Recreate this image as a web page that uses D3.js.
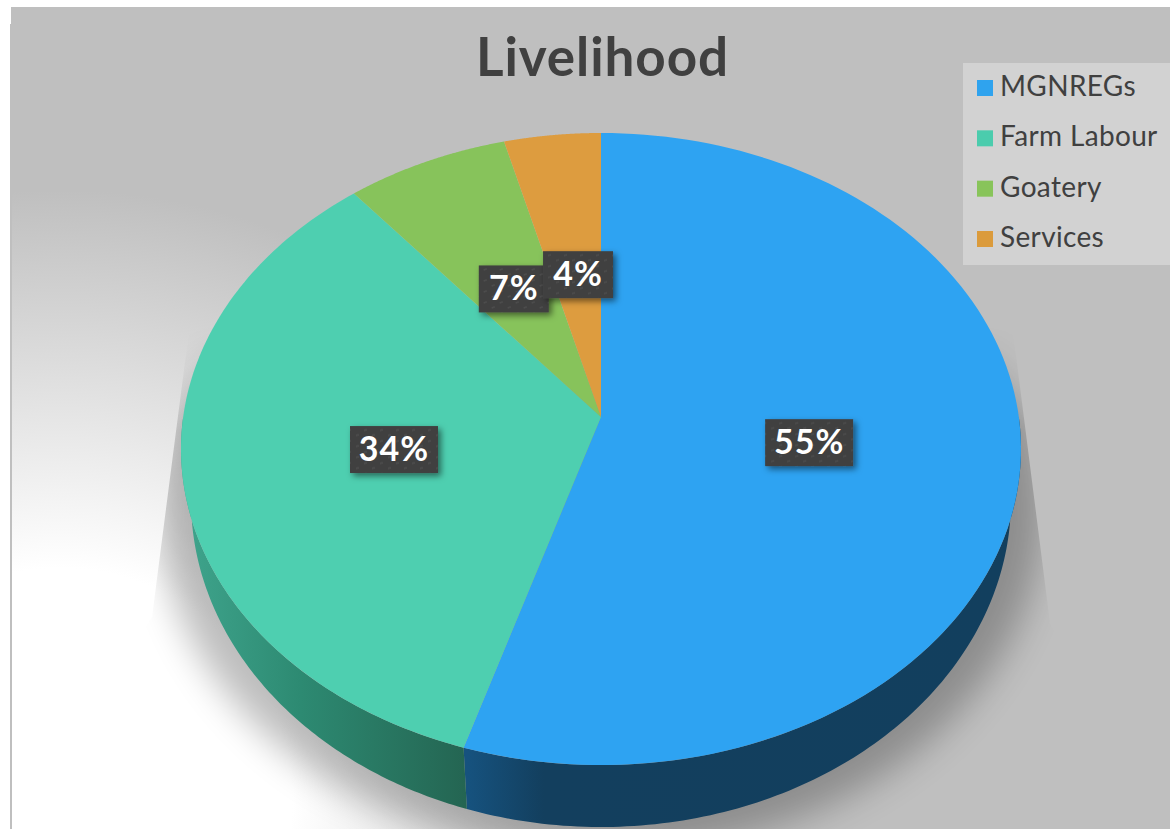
<!DOCTYPE html>
<html>
<head>
<meta charset="utf-8">
<script src="https://cdn.jsdelivr.net/npm/d3@7"></script>
<style>
  html, body { margin: 0; padding: 0; background: #fff; }
  svg { display: block; }
  text { font-family: Lato, sans-serif; }
</style>
</head>
<body>
<svg id="chart" width="1170" height="829"></svg>
<script>
// Data
const categories = ["MGNREGs", "Farm Labour", "Goatery", "Services"];
const shares = [0.548, 0.342, 0.069, 0.041];
const topColors = ["#2ea3f2", "#4ecfb0", "#87c35b", "#dd9c3f"];
const legendColors = ["#2fa3ee", "#4bccad", "#88c45a", "#db9b3c"];
const wallStops = [
  [["#16527e", 0], ["#133f5e", 0.14], ["#123f5e", 1]],
  [["#3ea38b", 0], ["#2d8a72", 0.4], ["#246552", 1]],
  [["#3d7a2c", 0], ["#3d7a2c", 1]],
  [["#7a5520", 0], ["#7a5520", 1]]
];
const titleText = "Livelihood";

const svg = d3.select("svg#chart");
const defs = svg.append("defs");

// Perspective of the pie: slices meet at the apex, not at the middle of the ellipse
const top3d = { cx: 601, cy: 449, rx: 420, ry: 316, apexY: 417, k: -0.1013 };
const low3d = { cx: 601, cy: 500, rx: 410, ry: 327 };
const scaleX = top3d.rx * Math.sqrt(1 - top3d.k * top3d.k);
const scaleY = 284 * (1 - top3d.k);

function project(angle, r) {
  const x = Math.sin(angle) * r;
  const y = -Math.cos(angle) * r;
  const w = 1 + top3d.k * y;
  return [top3d.cx + scaleX * x / w, top3d.apexY + scaleY * y / w];
}

function lowerRim(angle) {
  const p = project(angle, 1);
  const ex = (p[0] - top3d.cx) / top3d.rx;
  const ey = (p[1] - top3d.cy) / top3d.ry;
  return [low3d.cx + low3d.rx * ex, low3d.cy + low3d.ry * ey];
}

const pie = d3.pie().sort(null).value(d => d);
const arcs = pie(shares);
const line = d3.line().curve(d3.curveLinearClosed);

function arcAngles(d, from, to) {
  const a0 = Math.max(d.startAngle, from);
  const a1 = Math.min(d.endAngle, to);
  return d3.range(0, 121).map(i => a0 + (a1 - a0) * i / 120);
}

// Background
const bgGrad = defs.append("radialGradient")
  .attr("id", "bgGrad")
  .attr("gradientUnits", "userSpaceOnUse")
  .attr("cx", 60).attr("cy", 800).attr("r", 610);
bgGrad.append("stop").attr("offset", 0.38).attr("stop-color", "#ffffff");
bgGrad.append("stop").attr("offset", 1).attr("stop-color", "#bfbfbf");

svg.append("rect")
  .attr("x", 11).attr("y", 7)
  .attr("width", 1159).attr("height", 822)
  .attr("fill", "url(#bgGrad)");
svg.append("rect")
  .attr("x", 10).attr("y", 24)
  .attr("width", 2).attr("height", 805)
  .attr("fill", "#bfbfbf");

// Shadow under the pie
const blur = defs.append("filter")
  .attr("id", "shadowBlur")
  .attr("x", "-10%").attr("y", "-10%")
  .attr("width", "120%").attr("height", "120%");
blur.append("feGaussianBlur").attr("stdDeviation", 18);

defs.append("clipPath").attr("id", "shadowClip")
  .append("path")
  .attr("d", "M193,300 L1009,300 L1050,623 L1170,829 L0,829 L152,617 Z");

// The shadow fades out towards the top
const fadeGrad = defs.append("linearGradient")
  .attr("id", "fadeGrad")
  .attr("gradientUnits", "userSpaceOnUse")
  .attr("x1", 0).attr("x2", 0)
  .attr("y1", 325).attr("y2", 430);
fadeGrad.append("stop").attr("offset", 0).attr("stop-color", "#000");
fadeGrad.append("stop").attr("offset", 1).attr("stop-color", "#fff");
defs.append("mask")
  .attr("id", "shadowFade")
  .attr("maskUnits", "userSpaceOnUse")
  .attr("x", 0).attr("y", 0)
  .attr("width", 1170).attr("height", 829)
  .append("rect")
  .attr("width", 1170).attr("height", 829)
  .attr("fill", "url(#fadeGrad)");

svg.append("g")
  .attr("clip-path", "url(#shadowClip)")
  .attr("mask", "url(#shadowFade)")
  .append("ellipse")
  .attr("cx", 601).attr("cy", 508)
  .attr("rx", 442).attr("ry", 346)
  .attr("fill", "#000")
  .attr("opacity", 0.26)
  .attr("filter", "url(#shadowBlur)");

// Side walls, only the front half can be seen
arcs.forEach((d, i) => {
  const grad = defs.append("linearGradient")
    .attr("id", "wall" + i)
    .attr("gradientUnits", "userSpaceOnUse")
    .attr("x1", i == 1 ? 190 : 468).attr("x2", i == 1 ? 466 : 1010)
    .attr("y1", 0).attr("y2", 0);
  grad.selectAll("stop")
    .data(wallStops[i])
    .join("stop")
    .attr("offset", s => s[1])
    .attr("stop-color", s => s[0]);
});

svg.append("g").selectAll("path")
  .data(arcs.filter(d => d.startAngle < Math.PI * 1.5))
  .join("path")
  .attr("d", d => {
    const angles = arcAngles(d, Math.PI / 2, Math.PI * 1.5);
    return line(angles.map(a => project(a, 1)).concat(angles.slice().reverse().map(lowerRim)));
  })
  .attr("fill", d => "url(#wall" + d.index + ")");

// Top of the slices
svg.append("g").selectAll("path")
  .data(arcs)
  .join("path")
  .attr("d", d => line([project(0, 0)].concat(arcAngles(d, 0, Math.PI * 2).map(a => project(a, 1)))))
  .attr("fill", (d, i) => topColors[i]);

// Title
svg.append("text")
  .attr("x", 602.5)
  .attr("y", 76)
  .attr("text-anchor", "middle")
  .attr("font-size", 53)
  .attr("font-weight", 700)
  .attr("letter-spacing", 0.9)
  .attr("fill", "#404040")
  .text(titleText);

// Legend
const legend = svg.append("g");
legend.append("rect")
  .attr("x", 963).attr("y", 63)
  .attr("width", 207).attr("height", 202)
  .attr("fill", "#d2d2d2");

const legendY = d3.scalePoint()
  .domain(categories)
  .range([88, 239]);

const rows = legend.selectAll("g.row")
  .data(categories)
  .join("g")
  .attr("class", "row")
  .attr("transform", d => "translate(977," + legendY(d) + ")");
rows.append("rect")
  .attr("y", -8)
  .attr("width", 16).attr("height", 16)
  .attr("fill", (d, i) => legendColors[i]);
rows.append("text")
  .attr("x", 23)
  .attr("y", 8)
  .attr("font-size", 28)
  .attr("letter-spacing", 0.35)
  .attr("fill", "#404040")
  .text(d => d);

// Data labels
const texture = defs.append("pattern")
  .attr("id", "labelTexture")
  .attr("patternUnits", "userSpaceOnUse")
  .attr("width", 16).attr("height", 11);
texture.append("rect")
  .attr("width", 16).attr("height", 11)
  .attr("fill", "#404040");
texture.append("path")
  .attr("d", "M2,3 L5,2 M10,8 L13,7")
  .attr("stroke", "#4d4d4d")
  .attr("stroke-width", 1.5);

const boxShadow = defs.append("filter")
  .attr("id", "boxShadow")
  .attr("x", "-20%").attr("y", "-20%")
  .attr("width", "150%").attr("height", "150%");
boxShadow.append("feDropShadow")
  .attr("dx", 3).attr("dy", 3)
  .attr("stdDeviation", 3)
  .attr("flood-color", "#000")
  .attr("flood-opacity", 0.5);

const percent = d3.format(".0%");
// 4% is drawn last, it lies over the 7% box
const labels = svg.append("g").selectAll("g")
  .data(arcs)
  .join("g")
  .attr("transform", d => {
    const small = d.value < 0.1;
    const p = project((d.startAngle + d.endAngle) / 2, small ? 0.488 : 0.5);
    return "translate(" + (p[0] + (small ? 2 : 0)) + "," + (p[1] + 2) + ")";
  });
labels.append("rect")
  .attr("x", d => d.value > 0.1 ? -44 : -35)
  .attr("y", -23.5)
  .attr("width", d => d.value > 0.1 ? 88 : 70)
  .attr("height", 47)
  .attr("fill", "url(#labelTexture)")
  .attr("filter", "url(#boxShadow)");
labels.append("text")
  .attr("y", 11)
  .attr("text-anchor", "middle")
  .attr("font-size", 34)
  .attr("font-weight", 700)
  .attr("letter-spacing", 1)
  .attr("fill", "#fff")
  .text(d => percent(d.value));
</script>
</body>
</html>
